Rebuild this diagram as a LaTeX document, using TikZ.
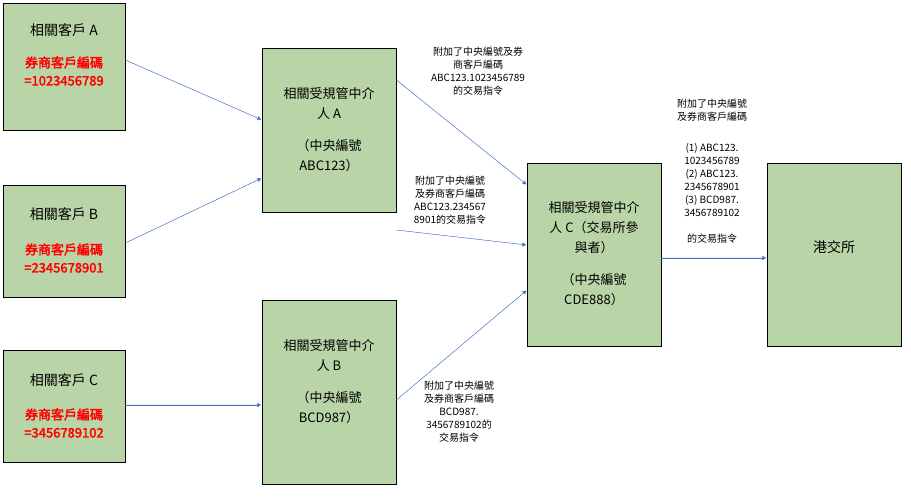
\documentclass[tikz,border=0pt]{standalone}
\usepackage{fontspec}
\setmainfont{Noto Sans CJK TC}[AutoFakeBold=2.5]
\usetikzlibrary{positioning,arrows.meta}
\definecolor{boxgreen}{RGB}{185,213,168}
\definecolor{linkblue}{RGB}{68,114,196}
\begin{document}
\begin{tikzpicture}[
  x=1pt, y=-1pt, >=Triangle,
  font=\fontsize{14}{18}\selectfont,
  box/.style={draw,fill=boxgreen,minimum width=122pt,anchor=north west,inner sep=0pt},
  mid/.style={draw,fill=boxgreen,minimum width=134pt,anchor=north west,inner sep=0pt},
  txt/.style={align=center,inner sep=0pt},
  lbl/.style={align=center,inner sep=0pt,font=\fontsize{10}{13}\selectfont},
  link/.style={->,draw=linkblue,fill=linkblue,shorten >=1pt}
]
\useasboundingbox (0,0) rectangle (911,502);
% Clients
\node[box,minimum height=127pt] (ca) at (3,3) {};
\node[box,minimum height=112pt] (cb) at (3,185) {};
\node[box,minimum height=112pt] (cc) at (3,350) {};
\node[txt] at (64,30) {相關客戶 A};
\node[txt,text=red,font=\fontsize{13}{18}\selectfont\bfseries] at (64,71) {券商客戶編碼\\=1023456789};
\node[txt] at (64,214) {相關客戶 B};
\node[txt,text=red,font=\fontsize{13}{18}\selectfont\bfseries] at (64,258) {券商客戶編碼\\=2345678901};
\node[txt] at (64,380) {相關客戶 C};
\node[txt,text=red,font=\fontsize{13}{18}\selectfont\bfseries] at (64,423) {券商客戶編碼\\=3456789102};

% Intermediaries
\node[mid,minimum height=164pt] (ia) at (262,48) {};
\node[mid,minimum height=184pt] (ib) at (262,300) {};
\node[mid,minimum height=183pt] (ic) at (527,163) {};
\node[mid,minimum height=183pt] (hk) at (767,163) {};
\node[txt,font=\fontsize{13}{20}\selectfont] at (329,130) {相關受規管中介\\人 A\\[12pt]（中央編號\\ABC123）};
\node[txt,font=\fontsize{13}{20}\selectfont] at (329,382) {相關受規管中介\\人 B\\[12pt]（中央編號\\BCD987）};
\node[txt,font=\fontsize{13}{20}\selectfont] at (594,254) {相關受規管中介\\人 C（交易所參\\與者）\\[12pt]（中央編號\\CDE888）};
\node[txt] at (834,247) {港交所};

% Labels
\node[lbl] at (478,71) {附加了中央編號及券\\商客戶編碼\\ABC123.1023456789\\的交易指令};
\node[lbl] at (450,200) {附加了中央編號\\及券商客戶編碼\\ABC123.234567\\8901的交易指令};
\node[lbl] at (459,412) {附加了中央編號\\及券商客戶編碼\\BCD987.\\3456789102的\\交易指令};
\node[lbl] at (712,110) {附加了中央編號\\及券商客戶編碼};
\node[lbl] at (712,180) {(1) ABC123.\\1023456789\\(2) ABC123.\\2345678901\\(3) BCD987.\\3456789102};
\node[lbl] at (712,239) {的交易指令};

% Connections
\draw[link] (ca.east |- 0,60) -- (ia.west |- 0,120);
\draw[link] (cb.east |- 0,243) -- (ia.west |- 0,178);
\draw[link] (cc.east |- 0,405) -- (ib.west |- 0,405);
\draw[link] (ia.east |- 0,80) -- (ic.west |- 0,185);
\draw[link] (ia.east |- 0,230) -- (ic.west |- 0,245);
\draw[link] (ib.east |- 0,400) -- (ic.west |- 0,290);
\draw[link] (ic.east |- 0,258) -- (hk.west |- 0,258);
\end{tikzpicture}
\end{document}
